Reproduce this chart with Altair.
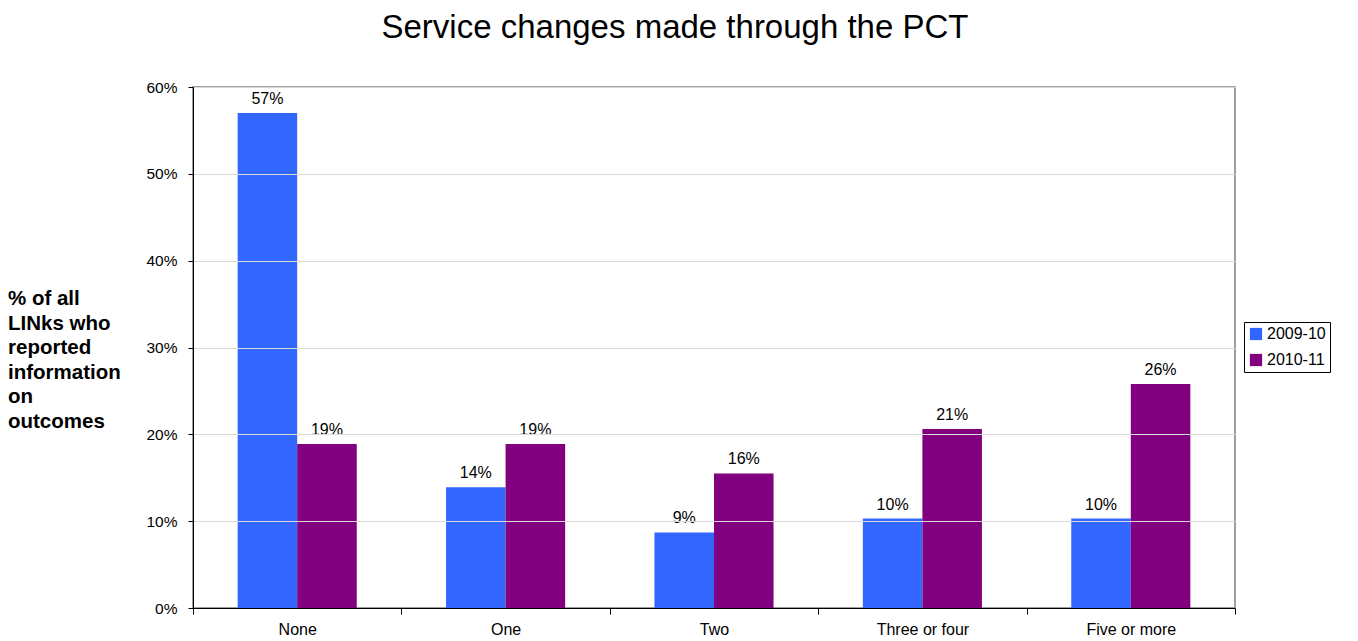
import altair as alt
import pandas as pd

categories = ["None", "One", "Two", "Three or four", "Five or more"]
series = ["2009-10", "2010-11"]
values_2009 = [57.0, 13.9, 8.7, 10.3, 10.3]
values_2010 = [18.9, 18.9, 15.5, 20.6, 25.8]
labels_2009 = ["57%", "14%", "9%", "10%", "10%"]
labels_2010 = ["19%", "19%", "16%", "21%", "26%"]
colors = ["#3366FF", "#800080"]
y_ticks = [0, 10, 20, 30, 40, 50, 60]
title_text = "Service changes made through the PCT"
y_title = ["% of all", "LINks who", "reported", "information", "on", "outcomes"]

rows = []
for c, v, l in zip(categories, values_2009, labels_2009):
    rows.append(dict(cat=c, series=series[0], value=v, label=l))
for c, v, l in zip(categories, values_2010, labels_2010):
    rows.append(dict(cat=c, series=series[1], value=v, label=l))
df = pd.DataFrame(rows)

FONT = "Liberation Sans"
W, H = 1042, 521

base = alt.Chart(df).encode(
    x=alt.X(
        "cat:N",
        sort=categories,
        scale=alt.Scale(paddingInner=0, paddingOuter=0),
        axis=alt.Axis(
            title=None, labelAngle=0, tickBand="extent", labelFont=FONT,
            labelFontSize=16, labelColor="black", domainColor="black",
            tickColor="black", tickSize=6, labelPadding=7, zindex=1,
        ),
    ),
    xOffset=alt.XOffset(
        "series:N", sort=series,
        scale=alt.Scale(paddingInner=0, paddingOuter=0.75),
    ),
    y=alt.Y(
        "value:Q",
        scale=alt.Scale(domain=[0, 60], nice=False),
        axis=alt.Axis(
            title=None, values=y_ticks, labelExpr="datum.value + '%'",
            labelFont=FONT, labelFontSize=15.5, labelColor="black",
            domainColor="black", tickColor="black", tickSize=5,
            labelPadding=11, gridColor="#d9d9d9", zindex=1,
        ),
    ),
)

bars = base.mark_bar().encode(
    color=alt.Color(
        "series:N",
        scale=alt.Scale(domain=series, range=colors),
        legend=alt.Legend(
            title=None, orient="none", legendX=1051, legendY=235,
            strokeColor="black", fillColor="white", padding=4,
            symbolType="square", symbolSize=150, symbolStrokeWidth=0,
            symbolOpacity=1, labelFont=FONT, labelFontSize=16,
            labelColor="black", rowPadding=10, labelOffset=3,
        ),
    )
)

text = base.mark_text(
    baseline="bottom", dy=-6, fontSize=16, font=FONT, color="black"
).encode(text="label:N")

one = pd.DataFrame({"a": [0]})
title = alt.Chart(one).mark_text(
    text=title_text, fontSize=33, font=FONT, color="black",
    align="center", baseline="middle",
).encode(x=alt.value(482), y=alt.value(-59))

ytitle = alt.Chart(one).mark_text(
    text=y_title, fontSize=20.5, font=FONT, fontWeight="bold", color="black",
    align="left", baseline="middle", lineHeight=24.5,
).encode(x=alt.value(-185), y=alt.value(212))

chart = alt.layer(bars, text, title, ytitle).properties(
    width=W, height=H,
    autosize=alt.AutoSizeParams(type="none"),
    padding={"left": 185, "top": 79, "right": 115, "bottom": 40},
).configure_view(stroke="#808080", strokeWidth=1.5)

chart.save("out.html", embed_options={"renderer": "svg", "actions": False})
